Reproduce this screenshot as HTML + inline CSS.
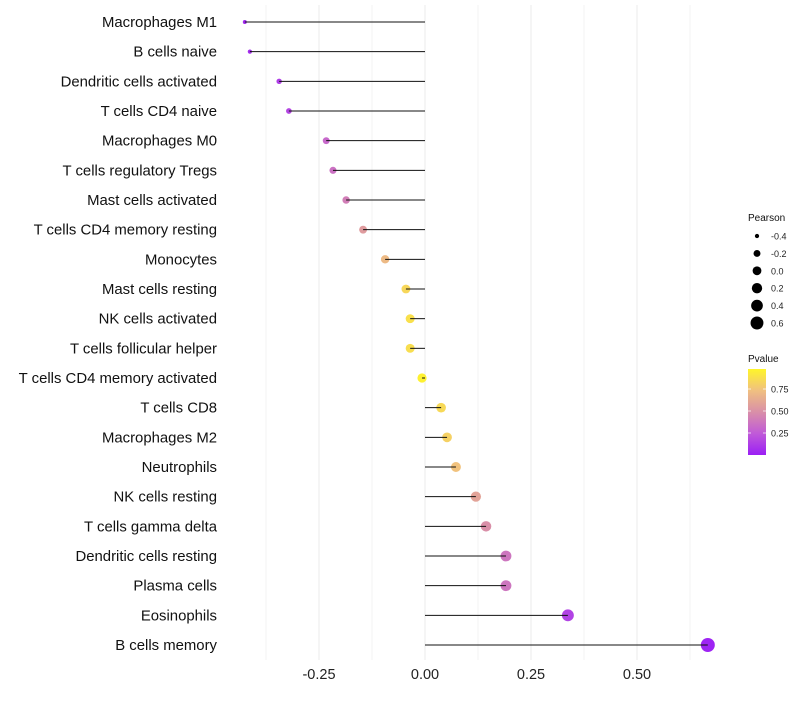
<!DOCTYPE html>
<html><head><meta charset="utf-8"><style>
body{margin:0;background:#fff;}
svg{font-family:"Liberation Sans",sans-serif;}
</style></head><body>
<svg id="chart" width="800" height="700"></svg>
<script>
const categories=["Macrophages M1","B cells naive","Dendritic cells activated","T cells CD4 naive","Macrophages M0","T cells regulatory  Tregs","Mast cells activated","T cells CD4 memory resting","Monocytes","Mast cells resting","NK cells activated","T cells follicular helper","T cells CD4 memory activated","T cells CD8","Macrophages M2","Neutrophils","NK cells resting","T cells gamma delta","Dendritic cells resting","Plasma cells","Eosinophils","B cells memory"];
const pearson=[-0.425,-0.413,-0.344,-0.321,-0.233,-0.217,-0.186,-0.146,-0.094,-0.045,-0.035,-0.035,-0.007,0.038,0.052,0.073,0.120,0.144,0.191,0.191,0.337,0.667];
const pvalues=[0.04,0.06,0.13,0.16,0.32,0.36,0.42,0.56,0.72,0.86,0.9,0.89,0.98,0.87,0.83,0.76,0.6,0.5,0.38,0.38,0.15,0.02];
const xTicks=[-0.25,0,0.25,0.5];
const xTickLabels=["-0.25","0.00","0.25","0.50"];
const sizeLegend=[-0.4,-0.2,0.0,0.2,0.4,0.6];
const sizeLegendLabels=["-0.4","-0.2","0.0","0.2","0.4","0.6"];
const pLegend=[0.25,0.5,0.75];
const pLegendLabels=["0.25","0.50","0.75"];

const svg=document.getElementById('chart');
const NS="http://www.w3.org/2000/svg";
function mk(t,a,p){const e=document.createElementNS(NS,t);for(const k in a)e.setAttribute(k,a[k]);(p||svg).appendChild(e);return e;}
const xS=v=>425+v*424;
const yS=i=>22+i*(623/21);
const rS=v=>Math.sqrt(Math.max(1,21.5+41.2*v));
const stops=[[0,[155,31,245]],[0.25,[192,90,216]],[0.5,[217,143,168]],[0.75,[240,192,128]],[1,[255,245,42]]];
function col(p){for(let i=0;i<stops.length-1;i++){const a=stops[i],b=stops[i+1];if(p<=b[0]){const t=(p-a[0])/(b[0]-a[0]);return 'rgb('+a[1].map((c,j)=>Math.round(c+(b[1][j]-c)*t)).join(',')+')';}}return 'rgb(255,245,42)';}

for(let v=-0.375;v<=0.7;v+=0.125){const g=mk('line',{x1:xS(v),x2:xS(v),y1:5,y2:660,stroke:'#ebebeb','stroke-width':xTicks.some(t=>Math.abs(t-v)<1e-9)?1:0.6});}
xTicks.forEach((v,i)=>{const t=mk('text',{x:xS(v),y:679,'text-anchor':'middle','font-size':14.5,fill:'#222'});t.textContent=xTickLabels[i];});
categories.forEach((c,i)=>{
 const y=yS(i);
 const t=mk('text',{x:217,y:y+5,'text-anchor':'end','font-size':14.9,fill:'#111'});t.textContent=c;
 t.setAttribute('xml:space','preserve');
 
 
 const pt=mk('circle',{cx:xS(pearson[i]),cy:y,r:rS(pearson[i]),fill:col(pvalues[i])});
 
 
 const ln=mk('line',{x1:xS(0),x2:xS(pearson[i]),y1:y,y2:y,stroke:'#111','stroke-width':1});
 
 
});
let lt=mk('text',{x:748,y:221,'font-size':10,fill:'#111'});lt.textContent='Pearson';


sizeLegend.forEach((v,i)=>{const y=236+i*17.4;
 const c=mk('circle',{cx:757,cy:y,r:rS(v)*0.95,fill:'#000'});
 
 
 const t=mk('text',{x:771,y:y+3.5,'font-size':9,fill:'#222'});t.textContent=sizeLegendLabels[i];
 
 });
let pt2=mk('text',{x:748,y:362,'font-size':10,fill:'#111'});pt2.textContent='Pvalue';


const defs=mk('defs',{});const lg=mk('linearGradient',{id:'pg',x1:0,y1:1,x2:0,y2:0},defs);
stops.forEach(s=>mk('stop',{offset:s[0],'stop-color':col(s[0])},lg));
const bar=mk('rect',{x:748,y:369,width:18,height:86,fill:'url(#pg)'});


const pY=p=>455-p*88;
pLegend.forEach((p,i)=>{mk('line',{x1:748,x2:751,y1:pY(p),y2:pY(p),stroke:'#fff','stroke-width':0.7});mk('line',{x1:763,x2:766,y1:pY(p),y2:pY(p),stroke:'#fff','stroke-width':0.7});
 const t=mk('text',{x:771,y:pY(p)+3.5,'font-size':9,fill:'#222'});t.textContent=pLegendLabels[i];
 
 });
</script>
</body></html>
